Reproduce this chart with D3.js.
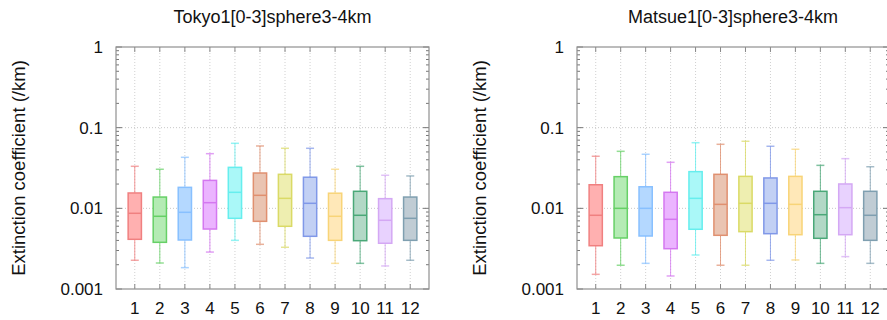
<!DOCTYPE html>
<html>
<head>
<meta charset="utf-8">
<script src="https://cdn.jsdelivr.net/npm/d3@7"></script>
<style>
  body { margin: 0; background: #fff; }
  svg { display: block; font-family: "Liberation Sans", Arial, sans-serif; }
</style>
</head>
<body>
<div id="chart"></div>
<script>
var months = [1, 2, 3, 4, 5, 6, 7, 8, 9, 10, 11, 12];
var yTicks = [0.001, 0.01, 0.1, 1];
var yTickLabels = ["0.001", "0.01", "0.1", "1"];

// per month: whisker low, q1, median, q3, whisker high
var tokyoLow = [0.00227, 0.0021, 0.00184, 0.00287, 0.00401, 0.00358, 0.00329, 0.00242, 0.00208, 0.00208, 0.00193, 0.00227];
var tokyoQ1 = [0.00413, 0.00379, 0.00405, 0.00554, 0.00752, 0.0069, 0.00599, 0.0045, 0.00401, 0.00397, 0.00369, 0.00401];
var tokyoMed = [0.00868, 0.00797, 0.00893, 0.01175, 0.0158, 0.0145, 0.0133, 0.01154, 0.00797, 0.0082, 0.00711, 0.00752];
var tokyoQ3 = [0.0155, 0.0138, 0.0182, 0.0222, 0.0322, 0.0274, 0.0264, 0.0243, 0.0154, 0.01626, 0.01318, 0.0138];
var tokyoHigh = [0.0332, 0.0305, 0.0429, 0.0476, 0.064, 0.0593, 0.0555, 0.0555, 0.0305, 0.0332, 0.0257, 0.0252];

var matsueLow = [0.00152, 0.00197, 0.00208, 0.00145, 0.00264, 0.00197, 0.00197, 0.00227, 0.00229, 0.00208, 0.00252, 0.00208];
var matsueQ1 = [0.00344, 0.00429, 0.00454, 0.00316, 0.0055, 0.00463, 0.00514, 0.00485, 0.00471, 0.00425, 0.00471, 0.00401];
var matsueMed = [0.0082, 0.01, 0.01, 0.00731, 0.0133, 0.0112, 0.01154, 0.01154, 0.0112, 0.00834, 0.0102, 0.0082];
var matsueQ3 = [0.0196, 0.0247, 0.0185, 0.0158, 0.0285, 0.0264, 0.0249, 0.0238, 0.0249, 0.01626, 0.02004, 0.01626];
var matsueHigh = [0.0442, 0.0509, 0.0468, 0.0372, 0.0651, 0.0622, 0.0678, 0.0588, 0.054, 0.0341, 0.0413, 0.0328];

var fills = ["#ffb0b0", "#b4ebb4", "#b4d8ff", "#ebb4ff", "#aaf8f8", "#eac4b2", "#eeeeb0", "#c2d0f4", "#ffe8b8", "#b2d8c6", "#e8d2fe", "#c0ccd4"];
var strokes = ["#f08080", "#66d066", "#88c0ff", "#d478f0", "#66eeee", "#e09070", "#dada66", "#8098e8", "#f8d478", "#4aa878", "#d4a8f4", "#7f9fb0"];

var width = 887, height = 320;
var svg = d3.select("#chart").append("svg").attr("width", width).attr("height", height);

function toRows(low, q1, med, q3, high) {
    return months.map(function (m, i) {
        return { month: m, low: low[i], q1: q1[i], med: med[i], q3: q3[i], high: high[i], i: i };
    });
}

var panels = [
    { title: "Tokyo1[0-3]sphere3-4km", left: 116, right: 429, rows: toRows(tokyoLow, tokyoQ1, tokyoMed, tokyoQ3, tokyoHigh) },
    { title: "Matsue1[0-3]sphere3-4km", left: 577, right: 889, rows: toRows(matsueLow, matsueQ1, matsueMed, matsueQ3, matsueHigh) }
];
var plotTop = 47, plotBottom = 289;

panels.forEach(function (p) { drawPanel(p); });

function drawPanel(p) {
    var x = d3.scaleLinear().domain([0.25, 12.75]).range([p.left, p.right]);
    var y = d3.scaleLog().domain([0.001, 1]).range([plotBottom, plotTop]);
    var g = svg.append("g");

    // grid
    g.selectAll(".hgrid").data(yTicks.slice(1, -1)).enter().append("line")
        .attr("x1", p.left).attr("x2", p.right)
        .attr("y1", d => y(d)).attr("y2", d => y(d))
        .attr("stroke", "#c8c8c8").attr("stroke-dasharray", "1,2");
    g.selectAll(".vgrid").data(months).enter().append("line")
        .attr("x1", d => x(d)).attr("x2", d => x(d))
        .attr("y1", plotTop).attr("y2", plotBottom)
        .attr("stroke", "#d0d0d0").attr("stroke-dasharray", "1,2");

    // minor + major y ticks (both sides)
    var minor = [];
    [0.001, 0.01, 0.1].forEach(function (dec) {
        for (var k = 2; k <= 9; k++) minor.push(dec * k);
    });
    g.selectAll(".ymin").data(minor).enter().append("path")
        .attr("d", d => "M" + p.left + "," + y(d) + "h3M" + p.right + "," + y(d) + "h-3")
        .attr("stroke", "#777").attr("fill", "none");
    g.selectAll(".ymaj").data(yTicks).enter().append("path")
        .attr("d", d => "M" + p.left + "," + y(d) + "h6M" + p.right + "," + y(d) + "h-6")
        .attr("stroke", "#777").attr("fill", "none");
    g.selectAll(".xt").data(months).enter().append("path")
        .attr("d", d => "M" + x(d) + "," + plotBottom + "v-5M" + x(d) + "," + plotTop + "v5")
        .attr("stroke", "#888").attr("fill", "none");

    // boxes
    var bw = x(0.53) - x(0);
    var cw = x(0.32) - x(0);
    var box = g.selectAll(".box").data(p.rows).enter().append("g");
    box.append("line")
        .attr("x1", d => x(d.month)).attr("x2", d => x(d.month))
        .attr("y1", d => y(d.high)).attr("y2", d => y(d.q3))
        .attr("stroke", d => strokes[d.i]).attr("stroke-opacity", 0.8);
    box.append("line")
        .attr("x1", d => x(d.month)).attr("x2", d => x(d.month))
        .attr("y1", d => y(d.q1)).attr("y2", d => y(d.low))
        .attr("stroke", d => strokes[d.i]).attr("stroke-opacity", 0.8);
    box.append("line")
        .attr("x1", d => x(d.month) - cw / 2).attr("x2", d => x(d.month) + cw / 2)
        .attr("y1", d => y(d.high)).attr("y2", d => y(d.high))
        .attr("stroke", d => strokes[d.i]).attr("stroke-opacity", 0.7).attr("stroke-width", 1.5);
    box.append("line")
        .attr("x1", d => x(d.month) - cw / 2).attr("x2", d => x(d.month) + cw / 2)
        .attr("y1", d => y(d.low)).attr("y2", d => y(d.low))
        .attr("stroke", d => strokes[d.i]).attr("stroke-opacity", 0.7).attr("stroke-width", 1.5);
    box.append("rect")
        .attr("x", d => x(d.month) - bw / 2).attr("width", bw)
        .attr("y", d => y(d.q3)).attr("height", d => y(d.q1) - y(d.q3))
        .attr("fill", d => fills[d.i]).attr("stroke", d => strokes[d.i]).attr("stroke-width", 1.5);
    box.append("line")
        .attr("x1", d => x(d.month) - bw / 2).attr("x2", d => x(d.month) + bw / 2)
        .attr("y1", d => y(d.med)).attr("y2", d => y(d.med))
        .attr("stroke", d => strokes[d.i]).attr("stroke-width", 1.5);

    // border
    g.append("rect").attr("x", p.left).attr("y", plotTop)
        .attr("width", p.right - p.left).attr("height", plotBottom - plotTop)
        .attr("fill", "none").attr("stroke", "#909090").attr("stroke-width", 1.2);

    // labels
    g.selectAll(".yl").data(yTicks).enter().append("text")
        .attr("x", p.left - 13).attr("y", d => y(d) + 6)
        .attr("text-anchor", "end").attr("font-size", 17).attr("fill", "#111")
        .text((d, i) => yTickLabels[i]);
    g.selectAll(".xl").data(months).enter().append("text")
        .attr("x", d => x(d)).attr("y", plotBottom + 25)
        .attr("text-anchor", "middle").attr("font-size", 17).attr("fill", "#111")
        .text(d => d);
    g.append("text")
        .attr("x", (p.left + p.right) / 2).attr("y", 23)
        .attr("text-anchor", "middle").attr("font-size", 18).attr("fill", "#111")
        .text(p.title);
    g.append("text")
        .attr("transform", "translate(" + (p.left - 91) + "," + ((plotTop + plotBottom) / 2) + ") rotate(-90)")
        .attr("text-anchor", "middle").attr("font-size", 18.5).attr("fill", "#111")
        .text("Extinction coefficient (/km)");
}
</script>
</body>
</html>
